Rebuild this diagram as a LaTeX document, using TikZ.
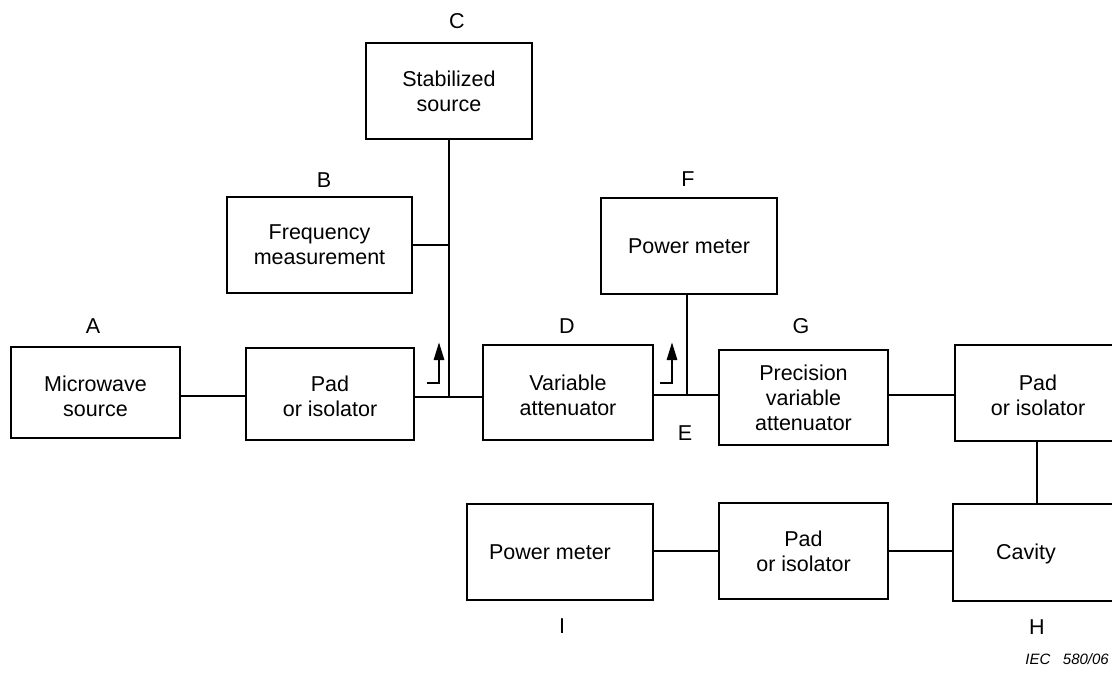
\documentclass[tikz,border=0pt]{standalone}
\usepackage{fontspec}
\setmainfont{Liberation Sans}
\usetikzlibrary{arrows.meta}
\begin{document}
\begin{tikzpicture}[x=1pt,y=-1pt,
  box/.style={draw,line width=2.8pt,rectangle,inner sep=0pt,align=center,
    font=\fontsize{21.5}{25}\selectfont},
  lbl/.style={font=\fontsize{21.5}{25}\selectfont,inner sep=0pt,align=center},
  wire/.style={line width=2.8pt},
  coup/.style={line width=2.8pt,-{Triangle[width=10pt,length=18pt]}}]
\clip (0,0) rectangle (1112,673);
\fill[white] (0,0) rectangle (1112,673);
% boxes
\node[box,minimum width=169pt,minimum height=91pt] (A) at (95.5,392.5) {};
\node[lbl] (At) at (95.5,396) {Microwave\\source};
\node[box,minimum width=168pt,minimum height=92pt] (P1) at (330,394) {};
\node[lbl] (P1t) at (330,396) {Pad\\or isolator};
\node[box,minimum width=166pt,minimum height=96pt] (C) at (449,91) {Stabilized\\source};
\node[box,minimum width=185pt,minimum height=96pt] (B) at (319.5,245) {Frequency\\measurement};
\node[box,minimum width=170pt,minimum height=95pt] (D) at (568,392.5) {};
\node[lbl] (Dt) at (568,395) {Variable\\attenuator};
\node[box,minimum width=176pt,minimum height=96pt] (F) at (689,246) {Power meter};
\node[box,minimum width=169pt,minimum height=95pt] (G) at (803.5,397.5) {Precision\\variable\\attenuator};
\node[box,minimum width=166pt,minimum height=96pt] (PR) at (1038,393) {};
\node[lbl] (PRt) at (1038,395) {Pad\\or isolator};
\node[box,minimum width=168pt,minimum height=97pt] (H) at (1037,552.5) {};
\node[lbl] (Ht) at (1026,554) {Cavity};
\node[box,minimum width=186pt,minimum height=96pt] (I) at (560,552) {};
\node[lbl] (It) at (550,552) {Power meter};
\node[box,minimum width=169pt,minimum height=96pt] (PB) at (803.5,551) {Pad\\or isolator};
% letters
\node[lbl] (lA) at (93,326) {A};
\node[lbl] (lB) at (324,180) {B};
\node[lbl] (lC) at (457,21) {C};
\node[lbl] (lD) at (567,326) {D};
\node[lbl] (lE) at (685,433) {E};
\node[lbl] (lF) at (688,179) {F};
\node[lbl] (lG) at (801,326) {G};
\node[lbl] (lH) at (1037,627) {H};
\node[lbl] (lI) at (562,626) {I};
\node[font=\fontsize{15}{18}\selectfont\itshape,inner sep=0pt,anchor=east] (iec) at (1109,659) {IEC\ \ \ 580/06};
% junctions
\coordinate (m1) at (0,396);
\coordinate (j1) at (449,397);
\coordinate (j2) at (687,395);
% wires
\draw[wire] (A.east |- m1) -- (P1.west |- m1);
\draw[wire] (P1.east |- j1) -- (D.west |- j1);
\draw[wire] (D.east |- j2) -- (G.west |- j2);
\draw[wire] (G.east |- j2) -- (PR.west |- j2);
\draw[wire] (C.south -| j1) -- (j1);
\draw[wire] (B.east) -- (B.east -| j1);
\draw[wire] (F.south -| j2) -- (j2);
\draw[wire] (PR.south -| H.north) -- (H.north);
\draw[wire] (I.east |- PB.west) -- (PB.west);
\draw[wire] (PB.east) -- (PB.east -| H.west);
% couplers
\coordinate (a1s) at (427,383);
\coordinate (a1k) at (439,383);
\coordinate (a1e) at (439,342);
\coordinate (a2s) at (660,383);
\coordinate (a2k) at (672,383);
\coordinate (a2e) at (672,342);
\draw[coup] (a1s) -- (a1k) -- (a1e);
\draw[coup] (a2s) -- (a2k) -- (a2e);
\end{tikzpicture}
\end{document}
